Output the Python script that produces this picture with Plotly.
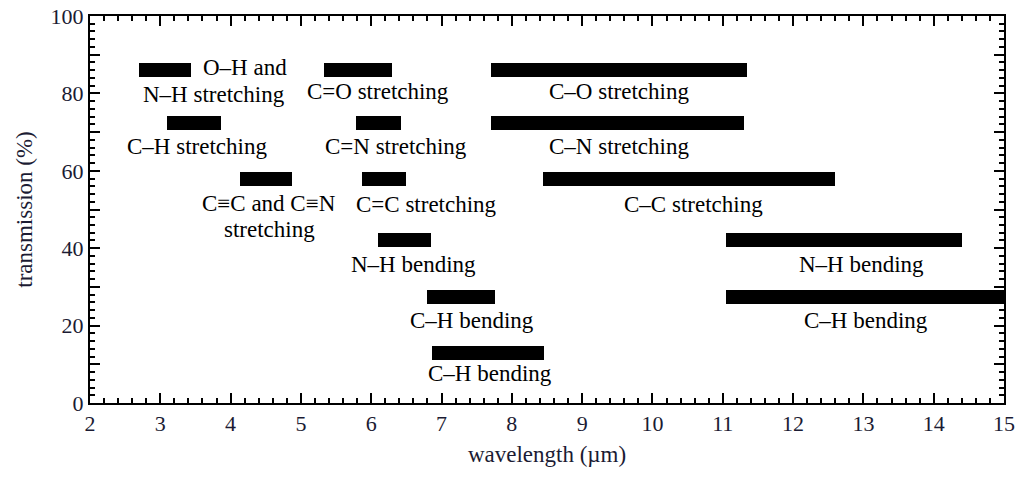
import plotly.graph_objects as go

# Absorption band ranges (wavelength, µm) and their row (transmission %)
band_start = [2.70, 5.33, 3.10, 5.78, 4.13, 5.87, 6.09, 6.80, 6.87, 7.70, 7.70, 8.45, 11.05, 11.05]
band_end   = [3.44, 6.30, 3.87, 6.42, 4.88, 6.49, 6.85, 7.76, 8.46, 11.35, 11.30, 12.60, 14.40, 15.30]
band_row   = [86.0, 86.0, 72.3, 72.3, 57.9, 57.9, 42.1, 27.4, 13.0, 86.0, 72.3, 57.9, 42.1, 27.4]

# Label texts and their anchor points (wavelength, transmission)
label_text = ["O–H and", "N–H stretching", "C=O stretching", "C–H stretching", "C=N stretching",
              "C≡C and C≡N", "stretching", "C=C stretching", "N–H bending", "C–H bending",
              "C–H bending", "C–O stretching", "C–N stretching", "C–C stretching",
              "N–H bending", "C–H bending"]
label_x = [4.20, 3.76, 6.10, 3.52, 6.35, 4.55, 4.55, 6.78, 6.60, 7.44, 7.69, 9.52, 9.53, 10.59, 12.97, 13.04]
label_y = [86.6, 79.8, 80.4, 66.4, 66.4, 51.6, 44.9, 51.2, 35.9, 21.2, 7.5, 80.4, 66.4, 51.4, 35.7, 21.2]

y_tickvals = [0, 10, 20, 30, 40, 50, 60, 70, 80, 90, 100]
y_ticktext = ["0", "", "20", "", "40", "", "60", "", "80", "", "100"]
x_tickvals = list(range(2, 16))

FONT = "Liberation Serif"
TXT = "#1b1b33"

fig = go.Figure()
fig.add_trace(go.Bar(
    orientation="h",
    base=band_start,
    x=[e - s for s, e in zip(band_start, band_end)],
    y=band_row,
    width=3.6,
    marker=dict(color="black", line=dict(width=0)),
    hoverinfo="skip",
    showlegend=False,
))

for t, x, y in zip(label_text, label_x, label_y):
    fig.add_annotation(x=x, y=y, text=t, showarrow=False, xanchor="center", yanchor="middle",
                       borderpad=0, font=dict(family=FONT, size=23, color="black"))

fig.update_layout(
    width=1020, height=477,
    margin=dict(l=90, r=16, t=16, b=74, autoexpand=False),
    paper_bgcolor="white", plot_bgcolor="white",
    bargap=0,
    showlegend=False,
)
fig.update_xaxes(
    range=[2, 15], tickmode="array", tickvals=x_tickvals, automargin=False,
    ticks="inside", ticklen=10, tickwidth=2, tickcolor="black",
    minor=dict(dtick=0.2, ticks="inside", ticklen=5, tickwidth=2, tickcolor="black", showgrid=False),
    showline=True, linecolor="black", linewidth=2, mirror="ticks",
    showgrid=False, zeroline=False,
    tickfont=dict(family=FONT, size=22, color=TXT),
    title=dict(text="wavelength (µm)", font=dict(family=FONT, size=23, color=TXT), standoff=10),
)
fig.update_yaxes(
    range=[0, 100], tickmode="array", tickvals=y_tickvals, ticktext=y_ticktext, automargin=False,
    ticks="inside", ticklen=10, tickwidth=2, tickcolor="black",
    minor=dict(dtick=2, ticks="inside", ticklen=5, tickwidth=2, tickcolor="black", showgrid=False),
    showline=True, linecolor="black", linewidth=2, mirror="ticks",
    showgrid=False, zeroline=False,
    tickfont=dict(family=FONT, size=22, color=TXT),
    title=dict(text="transmission (%)", font=dict(family=FONT, size=23, color=TXT), standoff=12),
)

fig.write_html("out.html")
